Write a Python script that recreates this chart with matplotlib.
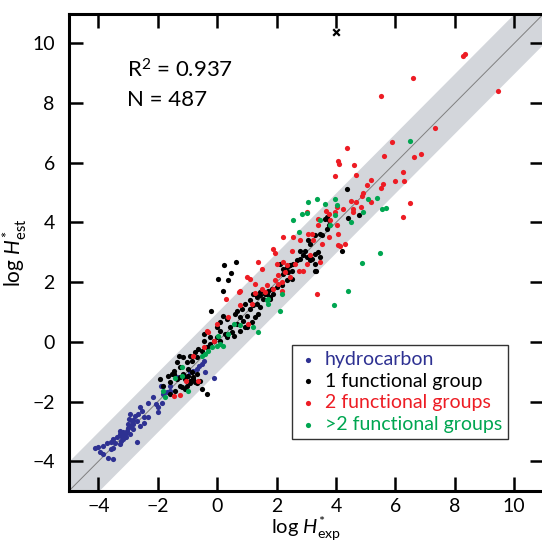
import matplotlib
matplotlib.use("Agg")
import matplotlib.pyplot as plt
import numpy as np

plt.rcParams['font.family'] = ['Lato', 'DejaVu Sans']
plt.rcParams['mathtext.fontset'] = 'custom'
plt.rcParams['mathtext.rm'] = 'Lato'
plt.rcParams['mathtext.it'] = 'Lato:italic'

# hydrocarbon (log H*exp, log H*est)
hc_x = [-4.01, -3.85, -3.72, -3.58, -3.50, -3.83, -3.52, -3.58, -3.50, -3.44, -3.27, -3.25, -3.22,
        -3.16, -3.10, -3.18, -3.04, -2.99, -2.94, -2.82, -2.88, -2.71, -2.60, -2.71, -2.96, -2.76,
        -2.65, -2.54, -2.48, -2.32, -2.60, -2.32, -2.17, -2.06, -1.98, -2.01, -1.87, -1.81, -1.69,
        -1.59, -1.59, -1.90, -3.27, -3.16, -3.07, -2.94, -2.84, -3.27, -3.36, -2.99, -2.82, -2.94,
        -2.47, -4.10, -3.96, -3.67, -0.46, -0.52, -0.60, -0.68, -0.80, -0.40, -0.12, -0.91, -1.36,
        -1.02]
hc_y = [-3.52, -3.49, -3.37, -3.36, -3.26, -3.76, -3.91, -3.58, -3.56, -3.40, -3.42, -3.31, -3.20,
        -3.14, -3.09, -3.03, -2.98, -2.89, -2.81, -2.75, -2.66, -2.64, -2.81, -3.35, -2.58, -2.47,
        -2.42, -2.31, -2.53, -2.53, -2.19, -2.03, -1.86, -2.08, -2.19, -2.36, -2.03, -1.74, -1.69,
        -1.47, -1.63, -1.47, -2.98, -3.26, -3.20, -3.09, -2.92, -3.09, -3.20, -2.75, -2.61, -2.42,
        -2.70, -3.55, -3.70, -3.90, -0.63, -0.74, -0.80, -0.91, -0.96, -1.02, -1.21, -1.02, -1.19,
        -1.13]

# 1 functional group
fg1_x = [-1.93, -1.81, -1.65, -1.59, -1.47, -1.36, -1.25, -1.14, -1.09, -0.97, -0.91, -0.80, -0.68,
         -0.74, -1.59, -1.42, -1.09, -1.25, -0.52, -0.35,
         0.21, -0.22, 0.21, 0.10, 0.32, 0.43, 0.60, 0.66, 0.83, 0.93, 1.11, 1.21, 1.33, 1.44, 1.55,
         1.11, 1.21, 1.33, 1.44, 0.77, 0.88, 0.99, 0.66, 0.49, 0.26, 0.10, -0.02, -0.12, -0.24,
         -0.35, -0.46, -0.52, -0.64, -0.74, -0.68, -0.86, -0.91, -1.02, -1.14, -1.27, -1.36, -1.25,
         -1.47, -1.53, -1.14, -0.97, -0.86, -0.80, -0.91, -0.68, -1.02, -1.19, 0.10, 0.32, 0.55,
         0.77, 0.99, 1.17, 1.27, 1.39, 0.93, 1.67, 1.78, -0.02, -0.24, -0.46,
         3.29, 3.47, 3.63, 3.75, 3.69, 3.07, 3.13, 2.96, 2.90, 3.01, 3.18, 3.29, 3.41, 3.47, 3.29,
         3.13, 2.79, 2.68, 2.56, 2.46, 2.34, 2.22, 2.12, 2.51, 2.40, 2.22, 3.29, 2.51, 2.34, 2.18,
         2.00, 1.84, 1.72, 1.61, 1.44, 1.27, 1.89, 1.78, 2.79,
         0.23, 0.63, 0.46, 0.02, 0.38,
         4.38, 3.77, 4.42, 4.78, 3.69, 3.52, 4.20, 3.32, -0.58]
fg1_y = [-1.24, -1.47, -1.13, -1.35, -1.07, -1.24, -1.19, -1.07, -1.24, -1.13, -1.30, -1.19, -1.07,
         -1.35, -1.74, -1.63, -1.58, -1.47, -1.58, -1.74,
         1.70, 1.05, 0.88, 0.66, 0.77, 0.49, 0.94, 1.05, 1.11, 1.28, 1.39, 1.61, 1.50, 1.56, 1.44,
         1.11, 1.22, 1.28, 1.16, 0.83, 0.71, 0.88, 0.60, 0.32, 0.27, 0.38, 0.15, 0.04, -0.07,
         -0.18, 0.04, -0.29, -0.24, -0.35, -0.52, -0.63, -0.46, -0.68, -0.52, -0.46, -0.68, -0.85,
         -0.96, -1.07, -1.13, -0.91, -1.02, -1.24, -1.36, -1.36, -1.47, -1.52, 0.04, 0.15, 0.21,
         0.38, 0.49, 0.66, 0.83, 0.94, 0.49, 1.61, 1.44, 0.49, 0.15, 0.27,
         3.57, 3.62, 4.13, 3.90, 4.18, 3.40, 3.29, 3.06, 2.90, 2.84, 2.79, 2.95, 3.01, 2.84, 2.62,
         2.73, 2.79, 2.73, 2.62, 2.56, 2.50, 2.45, 2.62, 2.39, 2.34, 2.28, 2.39, 2.11, 2.06, 1.89,
         1.83, 1.78, 1.72, 1.61, 1.66, 1.61, 1.61, 1.50, 3.06,
         2.56, 2.67, 2.30, 2.11, 2.08,
         5.13, 4.07, 4.16, 4.24, 3.79, 3.57, 3.06, 2.37, -1.30]

# 2 functional groups
fg2_x = [-1.47, -1.25, -1.06, -0.64,
         0.30, 0.73, 1.27, 1.61, 0.77, 1.17, 0.38, -0.02, -0.30, -0.12, -0.46, -0.80, 1.05, -0.35,
         1.89, 1.95, 2.00, 1.50, 1.39, 0.99, 1.11, 0.77, 1.27, 1.50, 1.67, 1.95, 2.06, 2.18, 2.28,
         2.22, 2.34, 2.46, 2.51, 2.62, 2.74, 2.90, 3.01, 3.13, 3.07, 3.18, 3.24, 3.41, 3.41, 3.75,
         3.80, 3.97, 4.03, 3.75, 3.52, 3.47, 4.08, 4.08, 2.56, 2.79, 2.22, 2.06, 1.89, 2.18, 3.35,
         4.38, 4.06, 4.10, 4.62, 3.95, 4.68, 5.87, 5.60, 6.61, 6.86, 6.27, 6.29, 5.99, 5.58, 5.52,
         5.17, 5.04, 4.90, 4.86, 4.68, 5.17, 4.51, 4.25, 4.56, 4.58, 4.83, 6.49, 6.25, 3.66, 4.03,
         8.35, 8.29, 6.59, 9.47, 7.34, 5.51, 3.01, 4.30, 4.13]
fg2_y = [-1.82, -1.77, -1.32, -1.32,
         1.44, 1.66, 1.63, 1.66, 1.22, 1.28, 0.83, 0.60, 0.32, 0.04, -0.18, -0.46, 0.60, 0.38,
         3.12, 2.97, 2.62, 2.45, 2.67, 2.19, 2.11, 1.72, 1.95, 1.78, 1.89, 2.06, 1.95, 2.00, 2.34,
         2.67, 2.56, 2.17, 3.06, 2.62, 2.39, 2.39, 2.62, 2.90, 3.62, 3.62, 3.40, 3.90, 4.13, 4.30,
         4.07, 4.35, 4.52, 3.51, 3.29, 2.67, 3.62, 3.23, 3.51, 3.40, 3.51, 2.23, 1.78, 1.72, 1.61,
         6.48, 6.05, 5.96, 5.92, 5.56, 5.60, 6.70, 6.22, 6.19, 6.31, 5.69, 5.39, 5.39, 5.30, 5.17,
         5.44, 5.24, 4.99, 4.89, 4.70, 4.70, 4.72, 4.45, 4.46, 4.35, 4.52, 4.65, 4.18, 4.38, 3.90,
         9.66, 9.59, 8.83, 8.40, 7.15, 8.23, 4.35, 3.27, 3.21]

# >2 functional groups
fg3_x = [-1.81, -1.75, -1.42, -1.19, -0.99,
         1.67, 1.72, 0.55, 0.77, 0.38, 0.04, 0.10, 0.21, -0.02, -0.18, -0.30, -0.40, -0.52, -1.19,
         1.21, 1.39, 2.12,
         3.07, 3.63, 4.03, 2.85, 3.01, 2.56, 2.74, 3.47, 3.80, 3.97, 2.18, 1.72,
         6.49, 3.95, 5.09, 5.39, 4.92, 5.54, 5.68, 4.50, 3.35, 5.48, 4.86, 4.42, 3.94]
fg3_y = [-1.66, -1.86, -1.21, -1.13, -1.66,
         1.39, 1.28, 0.60, 0.55, 0.27, 0.21, -0.07, -0.12, -0.12, -0.18, -0.29, -0.40, -0.46, -0.85,
         0.49, 0.32, 1.05,
         4.68, 4.63, 4.57, 4.30, 4.32, 4.07, 3.68, 4.07, 3.90, 4.24, 1.61, 1.44,
         6.73, 4.80, 4.80, 4.83, 4.36, 4.46, 4.49, 4.02, 4.80, 2.97, 2.64, 1.70, 1.22]

# excluded outlier
out_x = [4.0]
out_y = [10.37]

groups = [
    ("hydrocarbon", hc_x, hc_y, "#2e3192"),
    ("1 functional group", fg1_x, fg1_y, "#000000"),
    ("2 functional groups", fg2_x, fg2_y, "#ed1c24"),
    (">2 functional groups", fg3_x, fg3_y, "#00a651"),
]

fig = plt.figure(figsize=(5.42, 5.45), dpi=100)
ax = fig.add_axes([68.7 / 542, 1 - 491.2 / 545, 475.2 / 542, 477.7 / 545])

# 1:1 line with +/-1 log unit band
line = np.array([-5, 11])
ax.fill_between(line, line - 1, line + 1, color="#d3d6db", lw=0, zorder=0)
ax.plot(line, line, color="#7f7f7f", lw=0.7, zorder=1)

for label, x, y, c in groups:
    ax.scatter(x, y, s=14, color=c, lw=0, label=label, zorder=3)

ax.scatter(out_x, out_y, marker="x", s=22, color="black", lw=1.6, zorder=3)

ax.set_xlim(-5, 11)
ax.set_ylim(-5, 11)
ax.set_xticks(range(-4, 11, 2))
ax.set_yticks(range(-4, 11, 2))
ax.tick_params(direction="in", length=10, width=1.8, top=True, right=True, labelsize=14)
ax.tick_params(axis="x", pad=5)
ax.tick_params(axis="y", pad=10)
for s in ax.spines.values():
    s.set_linewidth(2.2)

ax.set_xlabel(r"log $\mathit{H}^{*}_{\mathrm{exp}}$", fontsize=14.5, labelpad=0)
ax.set_ylabel(r"log $\mathit{H}^{*}_{\mathrm{est}}$", fontsize=15, labelpad=2)

ax.text(0.122, 0.867, r"R$^{2}$ = 0.937", transform=ax.transAxes, fontsize=16)
ax.text(0.122, 0.806, "N = 487", transform=ax.transAxes, fontsize=16)

leg = ax.legend(loc="lower left", bbox_to_anchor=(0.47, 0.109), fontsize=14,
                frameon=True, fancybox=False, edgecolor="#333333", framealpha=1,
                handletextpad=0.4, handlelength=1.0, borderpad=0.3, labelspacing=0.25,
                borderaxespad=0, markerscale=1.0)
leg.get_frame().set_linewidth(1.0)
for t, (_, _, _, c) in zip(leg.get_texts(), groups):
    t.set_color(c)

fig.savefig("out.png", dpi=100)
